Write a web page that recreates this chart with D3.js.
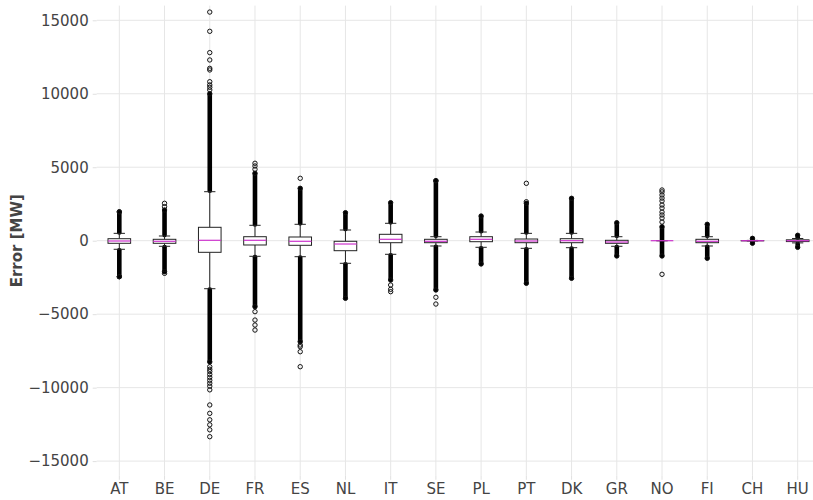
<!DOCTYPE html>
<html>
<head>
<meta charset="utf-8">
<script src="https://cdn.jsdelivr.net/npm/d3@7"></script>
<style>
  body { margin: 0; background: #fff; }
  svg { display: block; font-family: 'DejaVu Sans', sans-serif; }
</style>
</head>
<body>
<div id="chart"></div>
<script>
// countries on the x axis
const countries = ['AT', 'BE', 'DE', 'FR', 'ES', 'NL', 'IT', 'SE', 'PL', 'PT', 'DK', 'GR', 'NO', 'FI', 'CH', 'HU'];

// box statistics (MW)
const q1 =       [-177, -177, -790, -292, -313, -680, -136, -136,  -68, -136, -136, -177,  0, -136, -10, -60];
const medians =  [ -20,  -40,   27,   27,  -40, -225,   95,  -40,   95,  -20,    0,  -88,  0,  -40,   0,   0];
const q3 =       [ 136,   95,  912,  272,  252,  -40,  435,   95,  272,  115,  136,   27,  0,   95,  10,  60];
const whiskLo =  [-585, -380, -3267, -1062, -1089, -1538, -926, -360, -450, -520, -476, -380, 0, -360, -20, -150];
const whiskHi =  [ 500,  320, 3335, 1048, 1116,  728, 1184,  272,  590,  500,  500,  272,  0,  272,  20, 150];

// stretches where the flier circles overlap into a solid bar [from, to]
const upperDense = [[560, 1950], [380, 2090], [3400, 10000], [1110, 4590], [1180, 3566], [790, 1906],
  [1250, 2586], [330, 4083], [650, 1680], [560, 2545], [560, 2886], [330, 1225], [0, 950], [330, 1116], [30, 160], [200, 370]];
const lowerDense = [[-650, -2450], [-440, -2110], [-3330, -8250], [-1120, -4490], [-1150, -6874], [-1600, -3920],
  [-990, -2675], [-420, -3355], [-510, -1585], [-580, -2900], [-540, -2560], [-440, -1040], [0, -1040], [-420, -1198], [-30, -170], [-200, -450]];

// single fliers that stand apart
const sparseFliers = [
  [1975, -2450],
  [2315, 2545, -2220],
  [10260, 10440, 10600, 10820, 11620, 11730, 12300, 12800, 14250, 15560,
   -8575, -8750, -8900, -9100, -9300, -9500, -9700, -9900, -10150, -11180, -11750, -12190, -12530, -12870, -13340],
  [4860, 5085, 5270, -4830, -5400, -5740, -6080],
  [4247, -7100, -7214, -7555, -8576],
  [],
  [-3015, -3308, -3470],
  [4083, -3850, -4310],
  [],
  [2650, 3906],
  [],
  [],
  [1270, 1540, 1750, 1950, 2220, 2430, 2700, 2900, 3110, 3320, 3450, -2287],
  [],
  [],
  []
];

const yTicks = [-15000, -10000, -5000, 0, 5000, 10000, 15000];

const width = 813, height = 500;
const margin = { top: 5.6, right: -7.3, bottom: 24.2, left: 96.7 };

const svg = d3.select('#chart').append('svg')
  .attr('width', width)
  .attr('height', height);

const x = d3.scaleBand()
  .domain(countries)
  .range([margin.left, width - margin.right])
  .padding(0);

const y = d3.scaleLinear()
  .domain([-16000, 16000])
  .range([height - margin.bottom, margin.top]);

const bw = x.bandwidth();
const cx = d => x(d) + bw / 2;

// grid
svg.append('g')
  .selectAll('line')
  .data(yTicks)
  .join('line')
    .attr('x1', margin.left).attr('x2', width)
    .attr('y1', d => y(d)).attr('y2', d => y(d))
    .attr('stroke', '#e6e6e6').attr('stroke-width', 1);

svg.append('g')
  .selectAll('line')
  .data(countries)
  .join('line')
    .attr('x1', d => cx(d)).attr('x2', d => cx(d))
    .attr('y1', margin.top).attr('y2', height - margin.bottom)
    .attr('stroke', '#e6e6e6').attr('stroke-width', 1);

// axes
const yAxis = svg.append('g')
  .attr('transform', `translate(${margin.left},0)`)
  .call(d3.axisLeft(y).tickValues(yTicks).tickSize(4).tickPadding(4)
    .tickFormat(d => d < 0 ? '\u2212' + Math.abs(d) : `${d}`));
yAxis.select('.domain').remove();

const xAxis = svg.append('g')
  .attr('transform', `translate(0,${height - margin.bottom})`)
  .call(d3.axisBottom(x).tickSize(4).tickPadding(4));
xAxis.select('.domain').remove();

svg.selectAll('.tick line').attr('stroke', '#e0e0e0');
svg.selectAll('.tick text')
  .attr('fill', '#444')
  .style('font-size', '15px')
  .style('font-family', "'DejaVu Sans', sans-serif");

svg.append('text')
  .attr('transform', `translate(22,${y(0)}) rotate(-90)`)
  .attr('text-anchor', 'middle')
  .attr('fill', '#444')
  .style('font-size', '15px')
  .style('font-weight', 'bold')
  .text('Error [MW]');

// boxes
const rows = countries.map((c, i) => ({
  c, q1: q1[i], med: medians[i], q3: q3[i], lo: whiskLo[i], hi: whiskHi[i],
  up: upperDense[i], down: lowerDense[i], fl: sparseFliers[i]
}));

const g = svg.append('g');
const boxW = bw * 0.5, capW = bw * 0.25;
const ink = '#222';

rows.forEach(r => {
  const xc = cx(r.c);

  // dense flier bars
  [r.up, r.down].forEach(seg => {
    g.append('line')
      .attr('x1', xc).attr('x2', xc)
      .attr('y1', y(seg[0])).attr('y2', y(seg[1]))
      .attr('stroke', '#000').attr('stroke-width', 4.6)
      .attr('stroke-linecap', 'round');
  });

  // sparse fliers, plus the ends of the dense bars
  const ends = [r.up[1], r.down[1]].filter(v => v !== 0);
  g.selectAll(null)
    .data(r.fl.concat(ends))
    .join('circle')
      .attr('cx', xc).attr('cy', d => y(d)).attr('r', 2.2)
      .attr('fill', 'none').attr('stroke', '#111').attr('stroke-width', 1);

  // whiskers
  g.append('line')
    .attr('x1', xc).attr('x2', xc).attr('y1', y(r.q3)).attr('y2', y(r.hi))
    .attr('stroke', ink).attr('stroke-width', 1);
  g.append('line')
    .attr('x1', xc).attr('x2', xc).attr('y1', y(r.q1)).attr('y2', y(r.lo))
    .attr('stroke', ink).attr('stroke-width', 1);
  [r.lo, r.hi].forEach(v => {
    g.append('line')
      .attr('x1', xc - capW / 2).attr('x2', xc + capW / 2)
      .attr('y1', y(v)).attr('y2', y(v))
      .attr('stroke', ink).attr('stroke-width', 1);
  });

  // box
  g.append('rect')
    .attr('x', xc - boxW / 2).attr('width', boxW)
    .attr('y', y(r.q3)).attr('height', Math.max(0, y(r.q1) - y(r.q3)))
    .attr('fill', '#fff').attr('stroke', ink).attr('stroke-width', 1);

  // median
  g.append('line')
    .attr('x1', xc - boxW / 2).attr('x2', xc + boxW / 2)
    .attr('y1', y(r.med)).attr('y2', y(r.med))
    .attr('stroke', '#cc33cc').attr('stroke-width', 1.2);
});
</script>
</body>
</html>
